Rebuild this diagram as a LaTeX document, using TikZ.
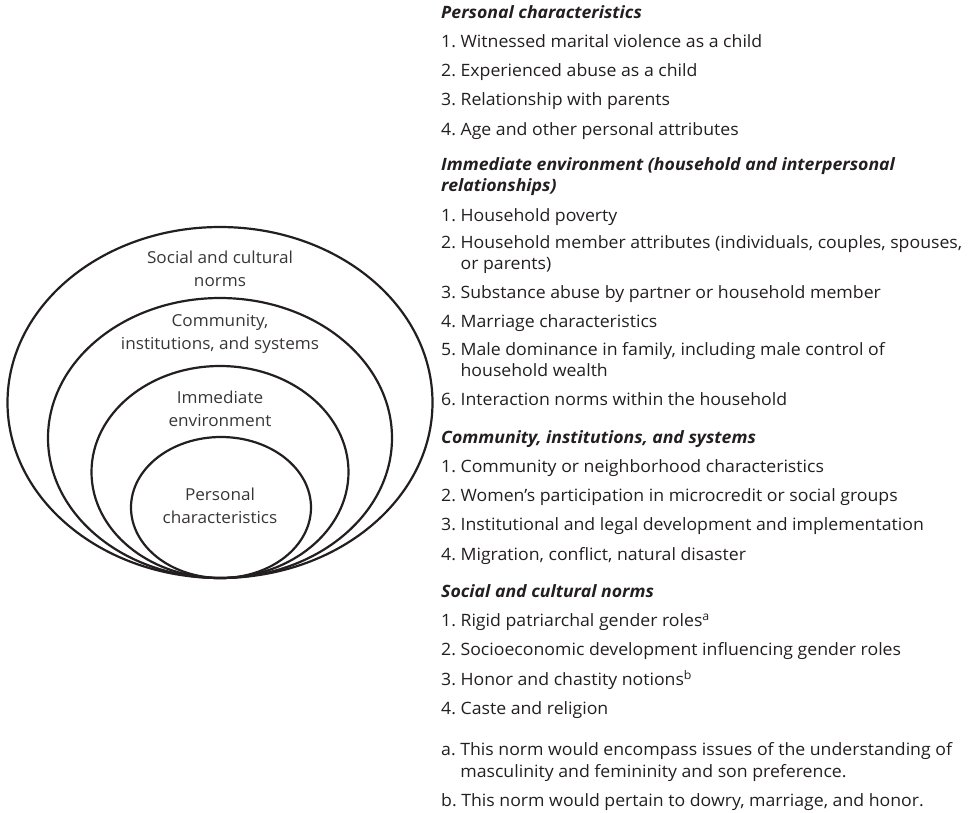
\documentclass[tikz,border=0pt]{standalone}
\usepackage{fontspec}
\setmainfont{Open Sans}[FakeStretch=1.04]
\usetikzlibrary{positioning,shapes.geometric}
\definecolor{ink}{HTML}{231F20}
\newcommand{\cont}[1]{\\\hphantom{#1\ }}
\frenchspacing

\begin{document}
\begin{tikzpicture}[x=1pt,y=-1pt,node distance=7.3pt,
 ring/.style={ellipse,draw=ink,line width=2.2pt,inner sep=0pt},
 tag/.style={align=center,text=ink!90,font=\fontsize{16.5}{23}\selectfont},
 entry/.style={anchor=north west,inner sep=0pt,align=left,text=ink,
   font=\fontsize{17}{21.5}\selectfont,execute at begin node=\strut,execute at end node=\strut},
 head/.style={entry,font=\fontsize{17}{21.5}\selectfont\itshape\bfseries},
 next/.style={below=of #1.south west,anchor=north west},
 newsec/.style={below=15.5pt of #1.south west,anchor=north west}]
\useasboundingbox (0,0) rectangle (972,812);
\node[ring,minimum width=425pt,minimum height=351pt] (soc) at (220,402.5) {};
\node[ring,minimum width=344pt,minimum height=280pt] (com) at (220,438) {};
\node[ring,minimum width=257pt,minimum height=212pt] (imm) at (220,472) {};
\node[ring,minimum width=180pt,minimum height=141pt] (per) at (221,507.5) {};
\node[tag] (socl) at (220,268.5) {Social and cultural\\norms};
\node[tag] (coml) at (220,334) {Community,\\institutions, and systems};
\node[tag] (imml) at (220,408.5) {Immediate\\environment};
\node[tag] (perl) at (220,506) {Personal\\characteristics};

\node[head] (h1) at (441,3) {Personal characteristics};
\node[entry,next=h1] (p1) {1. Witnessed marital violence as a child};
\node[entry,next=p1] (p2) {2. Experienced abuse as a child};
\node[entry,next=p2] (p3) {3. Relationship with parents};
\node[entry,next=p3] (p4) {4. Age and other personal attributes};

\node[head,newsec=p4] (h2) {Immediate environment (household and interpersonal\\relationships)};
\node[entry,next=h2] (i1) {1. Household poverty};
\node[entry,next=i1] (i2) {2. Household member attributes (individuals, couples, spouses,\cont{2.}or parents)};
\node[entry,next=i2] (i3) {3. Substance abuse by partner or household member};
\node[entry,next=i3] (i4) {4. Marriage characteristics};
\node[entry,next=i4] (i5) {5. Male dominance in family, including male control of\cont{5.}household wealth};
\node[entry,next=i5] (i6) {6. Interaction norms within the household};

\node[head,newsec=i6] (h3) {Community, institutions, and systems};
\node[entry,next=h3] (c1) {1. Community or neighborhood characteristics};
\node[entry,next=c1] (c2) {2. Women’s participation in microcredit or social groups};
\node[entry,next=c2] (c3) {3. Institutional and legal development and implementation};
\node[entry,next=c3] (c4) {4. Migration, conflict, natural disaster};

\node[head,newsec=c4] (h4) {Social and cultural norms};
\node[entry,next=h4] (s1) {1. Rigid patriarchal gender roles\textsuperscript{a}};
\node[entry,next=s1] (s2) {2. Socioeconomic development influencing gender roles};
\node[entry,next=s2] (s3) {3. Honor and chastity notions\textsuperscript{b}};
\node[entry,next=s3] (s4) {4. Caste and religion};

\node[entry,below=21.5pt of s4.south west,anchor=north west] (na) {a. This norm would encompass issues of the understanding of\cont{a.}masculinity and femininity and son preference.};
\node[entry,next=na] (nb) {b. This norm would pertain to dowry, marriage, and honor.};
\end{tikzpicture}
\end{document}
